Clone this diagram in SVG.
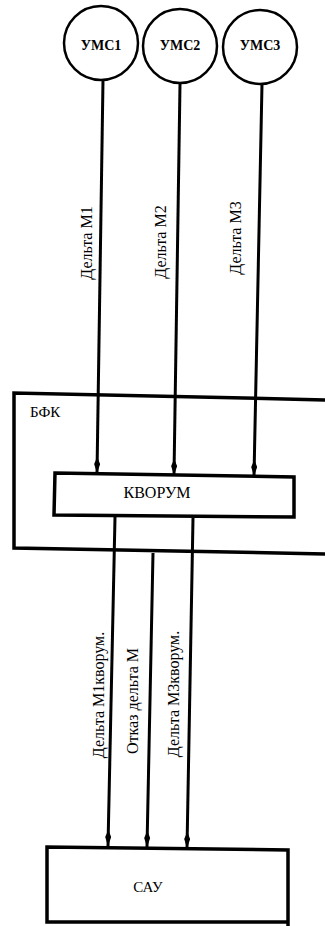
<svg xmlns="http://www.w3.org/2000/svg" width="325" height="926" viewBox="0 0 325 926">
<defs>
<style>
.t{font-family:"Liberation Serif","Times New Roman",serif;fill:#000}
.c{fill:#fff;stroke:#000;stroke-width:2.5}
.b{fill:#fff;stroke:#000;stroke-width:3.5}
.w{fill:none;stroke:#000;stroke-width:3.5}
.l{fill:none;stroke:#000;stroke-width:3}
</style>
<marker id="ah" markerWidth="16" markerHeight="6" refX="16" refY="3" orient="auto" markerUnits="userSpaceOnUse" viewBox="0 0 16 6">
<path d="M0,3 L7,0 L16,3 L7,6 Z" fill="#000"/>
</marker>
</defs>
<rect width="325" height="926" fill="#fff"/>
<g id="bfk">
<path class="w" d="M330,400 L14,393 L14,548 L330,554"/>
<text class="t" x="30" y="417" font-size="15">БФК</text>
</g>
<g id="umc1">
<circle class="c" cx="101" cy="43" r="37"/>
<text class="t" x="101" y="50" font-size="14" font-weight="bold" text-anchor="middle">УМС1</text>
</g>
<g id="umc2">
<circle class="c" cx="180" cy="46" r="37"/>
<text class="t" x="180" y="50" font-size="14" font-weight="bold" text-anchor="middle">УМС2</text>
</g>
<g id="umc3">
<circle class="c" cx="260" cy="47" r="37"/>
<text class="t" x="260" y="50" font-size="14" font-weight="bold" text-anchor="middle">УМС3</text>
</g>
<g id="kvorum">
<path class="b" d="M55,473 L294,477 L294,517 L54,515 Z"/>
<text class="t" x="157" y="498" font-size="16" text-anchor="middle">КВОРУМ</text>
</g>
<g id="sau">
<path class="b" d="M288,926 L288,850 L47,847 L47,922 L288,922"/>
<text class="t" x="148" y="892" font-size="15" text-anchor="middle">САУ</text>
</g>
<g id="connectors">
<path class="l" d="M103,80 L97,473" marker-end="url(#ah)"/>
<path class="l" d="M180,84 L174,475" marker-end="url(#ah)"/>
<path class="l" d="M262,84 L254,476" marker-end="url(#ah)"/>
<path class="l" d="M115,517 L108,846" marker-end="url(#ah)"/>
<path class="l" d="M153,553 L147,847" marker-end="url(#ah)"/>
<path class="l" d="M193,518 L187,848" marker-end="url(#ah)"/>
</g>
<g id="labels">
<text class="t" font-size="16" text-anchor="middle" transform="translate(92,243) rotate(-90)">Дельта М1</text>
<text class="t" font-size="16" text-anchor="middle" transform="translate(166,242) rotate(-90)">Дельта М2</text>
<text class="t" font-size="16" text-anchor="middle" transform="translate(241,238) rotate(-90)">Дельта М3</text>
<text class="t" font-size="16" text-anchor="middle" transform="translate(104,695) rotate(-90)">Дельта М1кворум.</text>
<text class="t" font-size="16" text-anchor="middle" transform="translate(138,701) rotate(-90)">Отказ дельта М</text>
<text class="t" font-size="16" text-anchor="middle" transform="translate(179,694) rotate(-90)">Дельта М3кворум.</text>
</g>
</svg>
